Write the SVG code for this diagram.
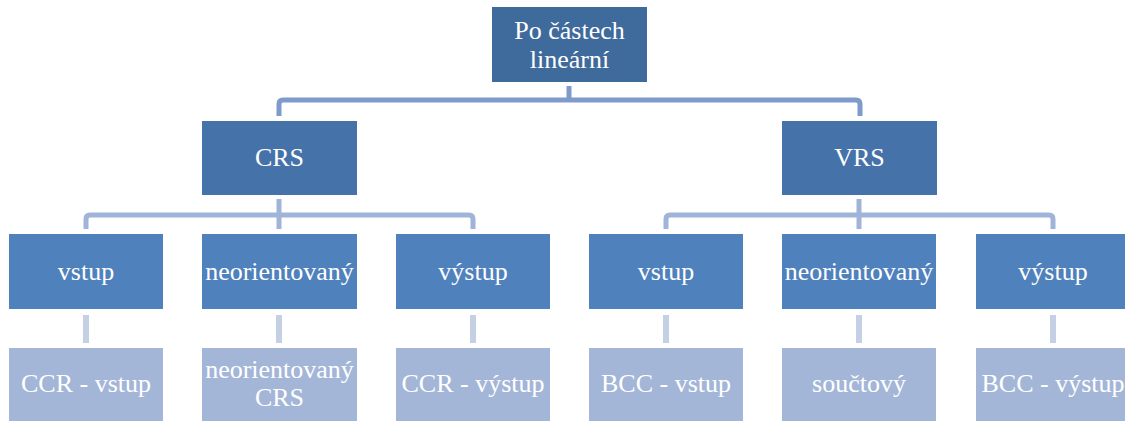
<svg xmlns="http://www.w3.org/2000/svg" width="1125" height="421" viewBox="0 0 1125 421">
<style>
.t{font-family:"Liberation Serif","Times New Roman",serif;font-size:26px;fill:#fff;text-anchor:middle}
.l1{fill:#3F6A9C}
.l2{fill:#4672AA}
.l3{fill:#4F81BD}
.l4{fill:#A4B6D7}
.c1{fill:none;stroke:#7E9BCC;stroke-width:5}
.c2{fill:none;stroke:#A0B4DA;stroke-width:5}
.c3{fill:none;stroke:#C5D0E4;stroke-width:6}
</style>
<rect width="1125" height="421" fill="#fff"/>
<g id="connectors">
<path class="c1" d="M569,86V100M279,116V104Q279,100 283,100H856Q860,100 860,104V116"/>
<path class="c2" d="M279,199V229M86,229V219Q86,215 90,215H469Q473,215 473,219V229"/>
<path class="c2" d="M859,199V229M666,229V219Q666,215 670,215H1049Q1053,215 1053,219V229"/>
<path class="c3" d="M86,315V343M279,315V343M473,315V343M666,315V343M859,315V343M1053,315V343"/>
</g>
<g id="root"><rect class="l1" x="492" y="7" width="155" height="75"/><text class="t" x="569.5" y="39">Po částech</text><text class="t" x="569.5" y="68">lineární</text></g>
<g id="crs"><rect class="l2" x="202" y="121" width="155" height="74"/><text class="t" x="279.5" y="166">CRS</text></g>
<g id="vrs"><rect class="l2" x="782" y="121" width="155" height="74"/><text class="t" x="859.5" y="166">VRS</text></g>
<g id="crs-vstup"><rect class="l3" x="9" y="234" width="154" height="75"/><text class="t" x="86" y="280">vstup</text></g>
<g id="crs-neor"><rect class="l3" x="202" y="234" width="155" height="75"/><text class="t" x="279.5" y="280">neorientovaný</text></g>
<g id="crs-vystup"><rect class="l3" x="396" y="234" width="154" height="75"/><text class="t" x="473" y="280">výstup</text></g>
<g id="vrs-vstup"><rect class="l3" x="589" y="234" width="154" height="75"/><text class="t" x="666" y="280">vstup</text></g>
<g id="vrs-neor"><rect class="l3" x="782" y="234" width="154" height="75"/><text class="t" x="859" y="280">neorientovaný</text></g>
<g id="vrs-vystup"><rect class="l3" x="976" y="234" width="154" height="75"/><text class="t" x="1053" y="280">výstup</text></g>
<g id="ccr-vstup"><rect class="l4" x="9" y="348" width="154" height="75"/><text class="t" x="86" y="392">CCR - vstup</text></g>
<g id="neor-crs"><rect class="l4" x="202" y="348" width="155" height="75"/><text class="t" x="279.5" y="378">neorientovaný</text><text class="t" x="279.5" y="406">CRS</text></g>
<g id="ccr-vystup"><rect class="l4" x="396" y="348" width="154" height="75"/><text class="t" x="473" y="392">CCR - výstup</text></g>
<g id="bcc-vstup"><rect class="l4" x="589" y="348" width="154" height="75"/><text class="t" x="666" y="392">BCC - vstup</text></g>
<g id="souctovy"><rect class="l4" x="782" y="348" width="154" height="75"/><text class="t" x="859" y="392">součtový</text></g>
<g id="bcc-vystup"><rect class="l4" x="976" y="348" width="154" height="75"/><text class="t" x="1053" y="392">BCC - výstup</text></g>
</svg>
